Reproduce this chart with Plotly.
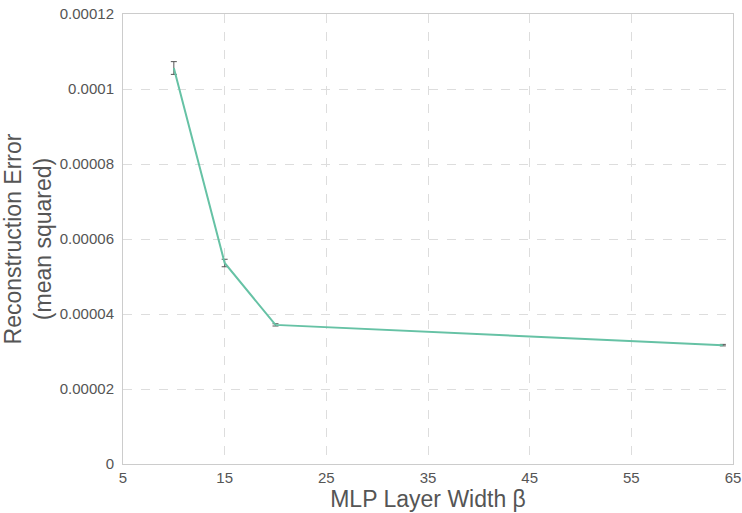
import plotly.graph_objects as go

widths = [10, 15, 20, 64]
errors = [0.0001056, 0.0000536, 0.0000371, 0.0000317]
err_sd = [0.0000017, 0.0000010, 0.0000003, 0.0000002]

y_tickvals = [0, 0.00002, 0.00004, 0.00006, 0.00008, 0.0001, 0.00012]
y_ticktext = ["0", "0.00002", "0.00004", "0.00006", "0.00008", "0.0001", "0.00012"]
x_tickvals = [5, 15, 25, 35, 45, 55, 65]

fig = go.Figure()
fig.add_trace(go.Scatter(
    x=widths, y=errors, mode="lines",
    line=dict(color="#66c2a5", width=2),
    error_y=dict(type="data", array=err_sd, visible=True, color="#555555", thickness=1, width=3),
    showlegend=False,
))

grid = dict(showgrid=True, gridcolor="#dddddd", griddash="dash", gridwidth=1,
            showline=True, linecolor="#cccccc", linewidth=1, mirror=True,
            zeroline=False, ticks="", automargin=False,
            tickfont=dict(family="Liberation Sans", size=15, color="#555555"))

title_font = dict(family="Liberation Sans", size=23, color="#555555")

fig.update_layout(
    width=742, height=513,
    margin=dict(l=123, r=9, t=14, b=49),
    paper_bgcolor="white", plot_bgcolor="white",
    xaxis=dict(range=[5, 65], tickvals=x_tickvals,
               title=dict(text="MLP Layer Width β", font=title_font, standoff=2),
               **grid),
    yaxis=dict(range=[0, 0.00012], tickvals=y_tickvals, ticktext=y_ticktext,
               ticklabelstandoff=5,
               title=dict(text="Reconstruction Error<br>(mean squared)", font=title_font, standoff=5),
               **grid),
)
fig.write_html("out.html", config={"displayModeBar": False},
               post_script="document.body.style.margin='0';document.body.style.overflow='hidden';")
